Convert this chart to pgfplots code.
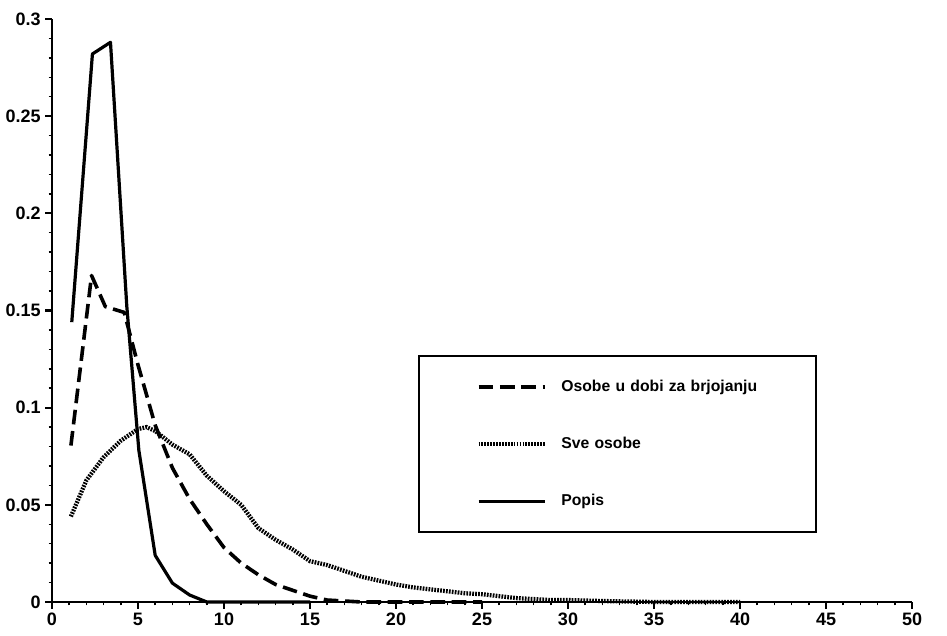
\documentclass[border=0pt]{standalone}
\usepackage{fontspec}
\setmainfont{Liberation Sans}
\usepackage{pgfplots}
\pgfplotsset{compat=1.18}
\begin{document}
\begin{tikzpicture}
\begin{axis}[
  scale only axis,
  width=645pt, height=437.25pt,
  xmin=0, xmax=50, ymin=0, ymax=0.3,
  axis x line=bottom, axis y line=left,
  axis line style={-, line width=1.8pt},
  xtick={0,5,...,50},
  xticklabels={0,5,10,15,20,25,30,35,40,45,50},
  ytick={0,0.05,0.1,0.15,0.2,0.25,0.3},
  yticklabels={0,0.05,0.1,0.15,0.2,0.25,0.3},
  scaled y ticks=false,
  minor tick num=4,
  tick align=outside,
  major tick length=5pt, minor tick length=2.5pt,
  every major tick/.style={line width=1.6pt, black},
  every minor tick/.style={line width=1.1pt, black},
  ticklabel style={font=\fontsize{13.5}{15}\selectfont\bfseries},
  clip=false,
  legend cell align=left,
  legend image code/.code={\draw[#1] (0pt,0pt) -- (49.5pt,0pt);},
  legend style={at={(axis cs:21.28,0.127)}, anchor=north west, draw=black,
    line width=1.6pt, fill=white, inner xsep=43pt, inner ysep=17.25pt,
    column sep=11pt, row sep=30.75pt,
    nodes={inner sep=0pt, text width=148pt, align=left, text height=9pt, text depth=3pt,
      font=\fontsize{11.8}{14}\selectfont\bfseries}},
]
\addplot[black, line width=2.7pt, dash pattern=on 11pt off 5pt, line join=round] coordinates {
(1.1,0.0805) (2.3,0.168) (3.1,0.152) (4.2,0.149) (5,0.122) (6,0.091) (7,0.069)
(8,0.053) (9,0.040) (10,0.028) (11,0.020) (12,0.014) (13,0.009) (14,0.006)
(15,0.003) (16,0.001) (17,0.0005) (18,0) (20,0) (25,0)
};
\addlegendentry{\mbox{Osobe u dobi za brjojanju}}
\addplot[black, line width=3.2pt, dash pattern=on 1.3pt off 0.9pt] coordinates {
(1.1,0.044) (2,0.0626) (3,0.0745) (4,0.083) (5,0.089) (5.5,0.090) (6,0.088)
(7,0.081) (8,0.076) (9,0.065) (10,0.057) (11,0.050) (12,0.038) (13,0.032)
(14,0.027) (15,0.021) (16,0.019) (17,0.016) (18,0.013) (19,0.011) (20,0.009)
(21,0.0075) (22,0.0065) (23,0.0055) (24,0.0045) (25,0.004) (26,0.003)
(27,0.002) (28,0.0015) (29,0.001) (30,0.001) (32,0.0005) (35,0) (40,0)
};
\addlegendentry{\mbox{Sve osobe}}
\addplot[black, line width=2.4pt, line join=round] coordinates {
(1.15,0.144) (2.35,0.282) (3.4,0.288) (4.35,0.152) (5.05,0.078) (6,0.024)
(7,0.0097) (8,0.0036) (9,0) (12,0) (15,0)
};
\addlegendentry{\mbox{Popis}}
\coordinate (LL) at (rel axis cs:0,0);
\coordinate (UR) at (rel axis cs:1,1);
\end{axis}
\pgfresetboundingbox
\path[use as bounding box] ([xshift=-39pt,yshift=-25.5pt]LL) rectangle ([xshift=26.25pt,yshift=14.25pt]UR);
\end{tikzpicture}
\end{document}
